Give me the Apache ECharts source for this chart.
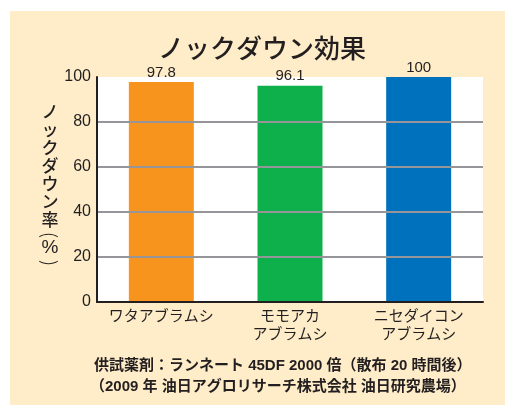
<!DOCTYPE html>
<html>
<head>
<meta charset="utf-8">
<script src="https://cdn.jsdelivr.net/npm/echarts@6/dist/echarts.min.js"></script>
<style>html,body{margin:0;padding:0;background:#fff;}#c{width:506px;height:405px;}</style>
</head>
<body>
<div id="c"></div>
<script>
const categories = ['ワタアブラムシ', 'モモアカ\nアブラムシ', 'ニセダイコン\nアブラムシ'];
const values = [97.8, 96.1, 100];
const barColors = ['#F7941D', '#0DB04B', '#0071BC'];
const titleText = 'ノックダウン効果';
const yName = ['ノ','ッ','ク','ダ','ウ','ン','率','(','%',')'];
const footer = ['供試薬剤：ランネート 45DF 2000 倍（散布 20 時間後）', '（2009 年 油日アグロリサーチ株式会社 油日研究農場）'];

const FONT = '"Liberation Sans", "Noto Sans CJK JP", sans-serif';
const INK = '#231F20';

// vertical axis name, one glyph per element
const nameEls = [];
let cy = 112;
yName.forEach((ch, i) => {
  const isParen = ch === '(' || ch === ')';
  if (isParen) cy -= 3;
  nameEls.push({
    type: 'text', x: 50, y: cy, rotation: isParen ? -Math.PI / 2 : 0,
    style: {text: ch, align: 'center', verticalAlign: 'middle',
      font: (ch === '%' ? '500 19px ' + FONT : (isParen ? '300 19px "Noto Sans CJK JP"' : '500 17px "Noto Sans CJK JP"')), fill: INK}
  });
  cy += isParen ? 13 : 18;
});

const chart = echarts.init(document.getElementById('c'), null, {renderer: 'canvas'});
chart.setOption({
  backgroundColor: '#ffffff',
  animation: false,
  grid: {left: 97, right: 23, top: 77, bottom: 103, show: true, backgroundColor: '#ffffff', borderWidth: 0, z: 1},
  graphic: [
    {type: 'rect', z: -10, silent: true, shape: {x: 10, y: 11, width: 495, height: 394}, style: {fill: '#FEEDC8'}},
    {type: 'text', x: 262, y: 48, style: {text: titleText, align: 'center', verticalAlign: 'middle', font: '500 26px "Noto Sans CJK JP"', fill: INK}},
    ...nameEls,
    {type: 'text', x: 94, y: 366, style: {text: footer[0], align: 'left', verticalAlign: 'middle', font: 'bold 15px ' + FONT, fill: INK}},
    {type: 'text', x: 90, y: 387, style: {text: footer[1], align: 'left', verticalAlign: 'middle', font: 'bold 15px ' + FONT, fill: INK}}
  ],
  xAxis: {
    type: 'category', data: categories,
    axisLine: {show: true, lineStyle: {color: INK, width: 2}},
    axisTick: {show: false},
    axisLabel: {color: INK, fontSize: 15, lineHeight: 18, margin: 6, fontFamily: FONT, interval: 0},
    z: 5
  },
  yAxis: {
    type: 'value', min: 0, max: 100, interval: 20,
    axisLine: {show: true, lineStyle: {color: INK, width: 2}},
    axisTick: {show: false},
    axisLabel: {color: INK, fontSize: 16, margin: 6, fontFamily: FONT},
    splitLine: {show: true, lineStyle: {color: ['#96969A', '#96969A', '#96969A', '#96969A', '#96969A', 'rgba(0,0,0,0)'], width: 2}},
    z: 5
  },
  series: [{
    type: 'bar', data: values.map((v, i) => ({value: v, itemStyle: {color: barColors[i]}})),
    barWidth: '50.5%', z: 3,
    label: {show: true, position: 'top', distance: 2, color: INK, fontSize: 15, fontFamily: FONT}
  }]
});
</script>
</body>
</html>
